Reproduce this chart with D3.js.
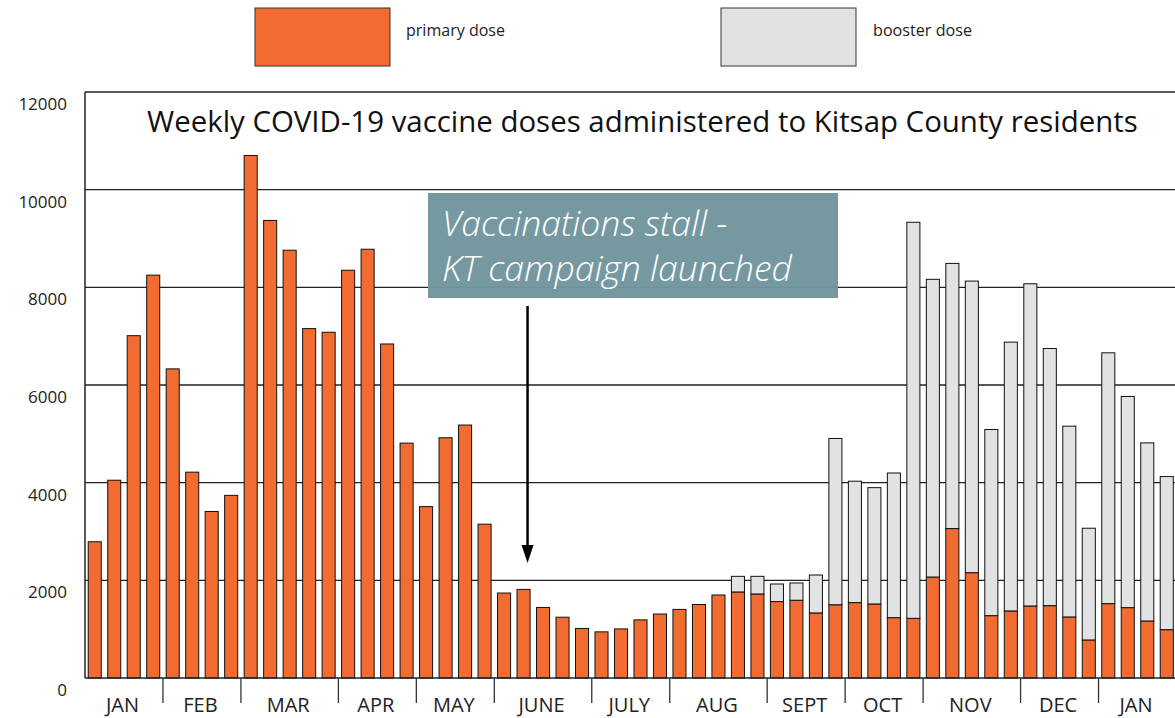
<!DOCTYPE html>
<html><head><meta charset="utf-8">
<script src="https://cdn.jsdelivr.net/npm/d3@7"></script>
<style>html,body{margin:0;padding:0;background:#fff;} svg{display:block;}</style>
</head><body>
<svg id="chart" width="1175" height="718"></svg>
<script>
// ---- data ----
const months = ["JAN","FEB","MAR","APR","MAY","JUNE","JULY","AUG","SEPT","OCT","NOV","DEC","JAN"];
const weeksPerMonth = [4,4,5,4,4,5,4,5,4,4,5,4,4];
const primary = [2790,4050,7010,8250, 6330,4215,3410,3740, 10700,9370,8760,7155,7080,
  8350,8780,6840,4810, 3510,4920,5180,3150, 1740,1815,1445,1245,1015, 945,1005,1190,1310,
  1405,1505,1700,1762,1721, 1565,1592,1333,1500, 1544,1516,1236,1222,
  2068,3060,2157,1277,1373, 1475,1482,1250,779, 1523,1441,1168,990];
const booster = [0,0,0,0, 0,0,0,0, 0,0,0,0,0, 0,0,0,0, 0,0,0,0, 0,0,0,0,0, 0,0,0,0,
  0,0,0,320,361, 360,354,776,3405, 2486,2382,2962,8110,
  6096,5430,5971,3811,5505, 6598,5266,3907,2288, 5136,4324,3647,3135];
const yTicks = [0,2000,4000,6000,8000,10000,12000];
const seriesNames = ["primary dose","booster dose"];
const title = "Weekly COVID-19 vaccine doses administered to Kitsap County residents";
const noteLines = ["Vaccinations stall -","KT campaign launched"];

(function(){
const weeks = [];
months.forEach((m,i)=>{ for(let w=0; w<weeksPerMonth[i]; w++) weeks.push(i+"-"+m+"-"+(w+1)); });
const rows = weeks.map((k,i)=>({week:k, primary:primary[i], booster:booster[i]}));

const W=1175, pLeft=85, pTop=92, pBase=678, pRight=1176.5;
const colors = {primary:"#f26c32", booster:"#e1e2e4"};
const svg = d3.select("#chart");
const font = "'Open Sans','Noto Sans',sans-serif";

const x = d3.scaleBand().domain(weeks).range([pLeft,pRight]).paddingInner(0.33).paddingOuter(0.165);
const y = d3.scaleLinear().domain([0,12000]).range([pBase,pTop]);

// gridlines
svg.append("g").selectAll("line").data(yTicks.filter(d=>d>0)).join("line")
  .attr("x1",pLeft).attr("x2",W).attr("y1",d=>y(d)).attr("y2",d=>y(d))
  .attr("stroke","#222").attr("stroke-width",1.3);

// y labels
svg.append("g").selectAll("text").data(yTicks).join("text")
  .attr("x",67).attr("y",d=>y(d)+18).attr("text-anchor","end")
  .attr("font-family",font).attr("font-size",17).attr("fill","#222").text(d=>d);

// stacked bars
const stack = d3.stack().keys(["primary","booster"])(rows);
svg.append("g").selectAll("g").data(stack).join("g")
  .attr("fill",d=>colors[d.key])
  .selectAll("rect").data(d=>d.filter(p=>p[1]-p[0]>0)).join("rect")
  .attr("x",d=>x(d.data.week)).attr("width",x.bandwidth())
  .attr("y",d=>y(d[1])).attr("height",d=>y(d[0])-y(d[1]))
  .attr("stroke","#111").attr("stroke-width",1);

// annotation box
svg.append("rect").attr("x",428).attr("y",193).attr("width",410).attr("height",105)
  .attr("fill","#72969e").attr("opacity",0.97);
const note = svg.append("text").attr("font-family",font).attr("font-style","italic")
  .attr("font-weight",300).attr("font-size",32).attr("fill","#fff");
const spans = noteLines.map((t,i)=> note.append("tspan").attr("x",442).attr("y",236+i*45).text(t));
const w2 = spans[1].node().getComputedTextLength();
note.attr("font-size",32*350/w2);

// arrow
const ax = x(weeks[22]) + x.bandwidth()/2 + 4;
svg.append("line").attr("x1",ax).attr("x2",ax).attr("y1",306).attr("y2",548).attr("stroke","#000").attr("stroke-width",2.5);
svg.append("path").attr("d",`M${ax-6},545 L${ax+6},545 L${ax},563 Z`).attr("fill","#000");

// axes lines
svg.append("line").attr("x1",pLeft).attr("x2",pLeft).attr("y1",pTop).attr("y2",pBase).attr("stroke","#222").attr("stroke-width",1.5);
svg.append("line").attr("x1",pLeft).attr("x2",W).attr("y1",pBase).attr("y2",pBase).attr("stroke","#222").attr("stroke-width",1.5);

// month separators & labels
let idx=0; const bounds=[];
weeksPerMonth.forEach((n)=>{ const s=idx; idx+=n; bounds.push([s,idx]); });
const step = x.step();
const bx = i => pLeft + i*step;
svg.append("g").selectAll("line").data(bounds.slice(1)).join("line")
  .attr("x1",d=>bx(d[0])).attr("x2",d=>bx(d[0])).attr("y1",pBase).attr("y2",703)
  .attr("stroke","#333").attr("stroke-width",1.3);
svg.append("g").selectAll("text").data(bounds).join("text")
  .attr("x",(d)=>(bx(d[0])+bx(d[1]))/2 - 1.5).attr("y",712)
  .attr("text-anchor","middle").attr("font-family",font).attr("font-size",20).attr("fill","#222")
  .text((d,i)=>months[i]);

// title
const tt = svg.append("text").attr("x",147).attr("y",132).attr("font-family",font)
  .attr("font-size",28).attr("fill","#111").text(title);
tt.attr("font-size",28*991/tt.node().getComputedTextLength());

// legend
const leg = [{k:"primary",x:255,tx:406,tw:99},{k:"booster",x:721,tx:873,tw:99}];
leg.forEach((l,i)=>{
  svg.append("rect").attr("x",l.x).attr("y",8).attr("width",135).attr("height",58)
    .attr("fill",colors[l.k]).attr("stroke","#333").attr("stroke-width",1);
  svg.append("text").attr("x",l.tx).attr("y",36).attr("font-family",font).attr("font-size",17)
    .attr("fill","#222").attr("textLength",l.tw).attr("lengthAdjust","spacingAndGlyphs").text(seriesNames[i]);
});
})();
</script>
</body></html>
